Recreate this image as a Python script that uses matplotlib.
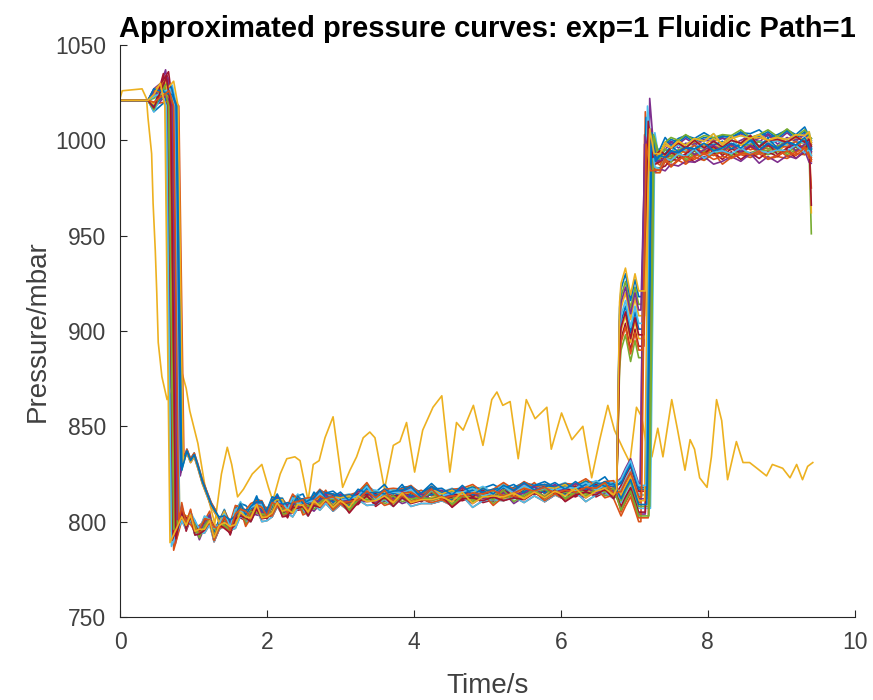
import matplotlib.pyplot as plt
import numpy as np

plt.rcParams['font.family'] = ['Liberation Sans', 'DejaVu Sans']

# MATLAB default line colour order
colors = ['#0072BD', '#D95319', '#EDB120', '#7E2F8E', '#77AC30', '#4DBEEE', '#A2142F']

# the one curve that does not follow the others (yellow)
odd_t = [0.00, 0.03, 0.30, 0.36, 0.38, 0.43, 0.45, 0.48, 0.50, 0.52, 0.57, 0.64, 0.72, 0.83,
         0.90, 0.95, 1.06, 1.15, 1.29, 1.38, 1.46, 1.52, 1.60, 1.68, 1.80, 1.93, 2.02, 2.08,
         2.18, 2.27, 2.38, 2.45, 2.56, 2.63, 2.71, 2.79, 2.90, 3.03, 3.13, 3.22, 3.31, 3.40,
         3.47, 3.60, 3.72, 3.81, 3.90, 4.01, 4.12, 4.26, 4.38, 4.49, 4.58, 4.67, 4.81, 4.94,
         5.06, 5.13, 5.21, 5.31, 5.42, 5.53, 5.65, 5.81, 5.87, 6.01, 6.15, 6.30, 6.42, 6.53,
         6.64, 6.73, 6.85, 6.94, 7.03, 7.10, 7.17, 7.24, 7.32, 7.39, 7.51, 7.59, 7.69, 7.76,
         7.82, 7.89, 7.99, 8.05, 8.12, 8.19, 8.27, 8.39, 8.48, 8.57, 8.67, 8.80, 8.88, 9.02,
         9.12, 9.21, 9.29, 9.36, 9.43]
odd_p = [1022, 1026, 1027, 1022, 1012, 993, 967, 942, 920, 894, 876, 864, 872, 880,
         870, 858, 841, 820, 799, 825, 839, 830, 813, 817, 825, 830, 818, 811,
         825, 833, 834, 832, 811, 830, 832, 844, 855, 818, 827, 834, 844, 847,
         844, 817, 840, 842, 852, 826, 848, 860, 866, 826, 852, 848, 861, 840,
         864, 868, 861, 863, 833, 864, 854, 860, 838, 857, 843, 850, 823, 843,
         861, 848, 838, 831, 860, 855, 839, 834, 849, 834, 864, 848, 827, 843,
         838, 823, 818, 834, 864, 853, 822, 842, 831, 831, 828, 824, 830, 828,
         823, 830, 822, 829, 831]

# shared shape of the low plateau (after the first drop)
low_t = [0.84, 0.90, 0.96, 1.02, 1.08, 1.15, 1.22, 1.28, 1.35, 1.42, 1.50, 1.57, 1.64, 1.71, 1.78,
         1.86, 1.93, 2.00, 2.07, 2.14, 2.21, 2.28, 2.35, 2.42, 2.49, 2.56, 2.64, 2.72, 2.80, 2.90,
         3.00, 3.12, 3.24, 3.36, 3.48, 3.60, 3.72, 3.84, 3.96, 4.10, 4.24, 4.38, 4.52, 4.66, 4.80,
         4.94, 5.08, 5.22, 5.36, 5.50, 5.64, 5.78, 5.92, 6.06, 6.20, 6.34, 6.48, 6.60, 6.72]
low_p = [806, 799, 803, 797, 795, 799, 801, 794, 798, 801, 796, 802, 806, 802, 804,
         808, 805, 803, 807, 810, 807, 805, 808, 810, 808, 807, 810, 811, 812, 810,
         811, 809, 812, 814, 812, 813, 812, 814, 813, 812, 814, 813, 812, 814, 813,
         814, 813, 815, 814, 815, 816, 815, 816, 815, 816, 816, 817, 817, 816]

# curves that drop late and sit on a shelf near 830 first
shelf_t = [0.86, 0.91, 0.96, 1.01, 1.06, 1.12, 1.18, 1.24, 1.30]
shelf_p = [830, 834, 829, 832, 826, 818, 812, 806, 802]

# shared shape of the high plateau, relative to each curve's level
high_t = [7.35, 7.42, 7.50, 7.60, 7.70, 7.82, 7.95, 8.08, 8.20, 8.32, 8.45, 8.58, 8.70,
          8.82, 8.95, 9.08, 9.20, 9.32, 9.38]
high_d = [-7, -4, -3, -2, -2, -1, -1, 0, -1, 0, 0, 1, 0, 1, 0, 1, 1, 2, 1]

# small ripple, shifted per curve so the bundle does not look like parallel copies
ripple = [0, 1.5, -1, 2, -2, 0.5, -1.5, 1, -0.5, 2.5, -2.5]

# step in between (around 6.8 s .. 7.1 s)
mid_t = [6.82, 6.88, 6.95, 7.01, 7.06]
mid_up_d = [0, 8, -6, 5, -4]
mid_lo_d = [-5, 0, 5, -2, -8]

# per-curve values of the main bundle
drop_t = [0.66, 0.74, 0.70, 0.78, 0.64, 0.72, 0.80, 0.68, 0.76, 0.73, 0.71, 0.79, 0.67, 0.75, 0.82,
          0.69, 0.77, 0.72, 0.65, 0.74, 0.78, 0.70, 0.81, 0.73, 0.68, 0.76, 0.71, 0.79, 0.75, 0.63]
shelf = [0, 0, 0, 1, 0, 0, 1, 0, 0, 0, 0, 1, 0, 0, 1, 0, 1, 0, 0, 0, 1, 0, 1, 0, 0, 0, 0, 1, 0, 0]
bottom = [792, 800, 788, 826, 795, 803, 830, 785, 806, 798, 794, 828, 790, 802, 833,
          797, 824, 799, 787, 804, 829, 793, 831, 801, 796, 805, 791, 827, 800, 789]
low_off = [0, 2, -2, 3, -1, 1, 4, -3, 2, 0, -1, 3, -2, 1, 4, -1, 2, 0, -3, 1, 3, -2, 2, 0, -1, 2, -2, 3, 1, -1]
pre_w = [-5, 3, -4, 5, -2, 4, -6, 2, -3, 6, -1, 3, -5, 4, -2, 5, -4, 1, -6, 3, -3, 5, -2, 4, -5, 2, -4, 6, -1, 3]
spike_p = [1030, 1025, 1037, 1022, 1028, 1034, 1024, 1031, 1026, 1033, 1023, 1029, 1035, 1027, 1021,
           1032, 1026, 1030, 1024, 1036, 1028, 1025, 1031, 1022, 1029, 1027, 1033, 1024, 1026, 1030]
upper = [1, 0, 0, 1, 0, 1, 0, 0, 1, 0, 1, 0, 0, 1, 0, 1, 0, 0, 1, 0, 0, 1, 0, 1, 0, 0, 1, 0, 0, 1]
mid_lvl = [905, 818, 812, 918, 822, 896, 826, 808, 912, 820, 890, 815, 824, 922, 810,
           900, 828, 816, 908, 813, 825, 894, 819, 915, 811, 827, 902, 817, 821, 925]
rise_t = [7.12, 7.08, 7.15, 7.10, 7.18, 7.13, 7.20, 7.09, 7.14, 7.17, 7.11, 7.22, 7.16, 7.10, 7.19,
          7.13, 7.08, 7.21, 7.12, 7.15, 7.18, 7.11, 7.14, 7.09, 7.20, 7.16, 7.13, 7.17, 7.10, 7.15]
over_p = [1005, 1003, 1022, 1000, 1004, 1008, 1002, 1015, 1001, 1006, 999, 1004, 1000, 1012, 1003,
          1005, 998, 1002, 1018, 1001, 1004, 999, 1007, 1002, 1003, 1000, 1010, 1001, 998, 1006]
high_lvl = [998, 995, 1001, 993, 999, 996, 1003, 991, 997, 1000, 994, 998, 992, 1002, 996,
            999, 990, 997, 1001, 995, 998, 993, 1000, 996, 1003, 994, 999, 997, 992, 1001]
end_lvl = [996, 993, 999, 951, 997, 994, 1001, 989, 962, 998, 992, 996, 990, 1000, 975,
           997, 988, 995, 999, 966, 996, 991, 998, 994, 1001, 992, 997, 995, 990, 999]


def bundle_curve(i):
    t = [0.0, 0.38, 0.46, drop_t[i] - 0.08, drop_t[i] - 0.02, drop_t[i] + 0.05]
    p = [1021, 1021, 1021 + pre_w[i], spike_p[i], 1018, bottom[i]]
    start = drop_t[i] + 0.08
    if shelf[i]:
        for tt, pp in zip(shelf_t, shelf_p):
            if tt > start:
                t.append(tt)
                p.append(pp + low_off[i])
        start = 1.32
    for n, (tt, pp) in enumerate(zip(low_t, low_p)):
        if tt > start:
            t.append(tt)
            p.append(pp + low_off[i] + ripple[(n + 3 * i) % len(ripple)])
    lvl = mid_lvl[i]
    if upper[i]:
        t += [6.76, 6.80]
        p += [817, lvl - 10]
        d = mid_up_d
    else:
        d = mid_lo_d
    for tt, dd in zip(mid_t, d):
        t.append(tt)
        p.append(lvl + dd)
    t += [rise_t[i], rise_t[i] + 0.06, rise_t[i] + 0.12]
    p += [lvl + d[-1], over_p[i], high_lvl[i] - 8]
    for n, (tt, dd) in enumerate(zip(high_t, high_d)):
        if tt > rise_t[i] + 0.14:
            t.append(tt)
            p.append(high_lvl[i] + dd + ripple[(n + 5 * i) % len(ripple)])
    t.append(9.41)
    p.append(end_lvl[i])
    return t, p


fig = plt.figure(figsize=(8.73, 7.0), dpi=100)
ax = fig.add_axes([0.1375, 0.1186, 0.8415, 0.8171])

n_curves = len(drop_t) + 1
k = 0
for j in range(n_curves):
    c = colors[j % len(colors)]
    if j == 2:
        ax.plot(odd_t, odd_p, color=c, lw=1.2)
    else:
        t, p = bundle_curve(k)
        ax.plot(t, p, color=c, lw=1.2)
        k += 1

ax.set_xlim(0, 10)
ax.set_ylim(750, 1050)
ax.set_xticks([0, 2, 4, 6, 8, 10])
ax.set_yticks([750, 800, 850, 900, 950, 1000, 1050])

for s in ['top', 'right']:
    ax.spines[s].set_visible(False)
for s in ['left', 'bottom']:
    ax.spines[s].set_color('#262626')
    ax.spines[s].set_linewidth(0.8)
ax.tick_params(direction='in', length=5, width=0.8, colors='#262626', labelsize=16.5, pad=10)
for lab in ax.get_xticklabels() + ax.get_yticklabels():
    lab.set_color('#404040')

ax.set_title('Approximated pressure curves: exp=1 Fluidic Path=1', fontsize=21, fontweight='bold', pad=6)
ax.set_xlabel('Time/s', fontsize=20, color='#404040', labelpad=14)
ax.set_ylabel('Pressure/mbar', fontsize=20, color='#404040', labelpad=3)

fig.savefig('out.png', dpi=100)
